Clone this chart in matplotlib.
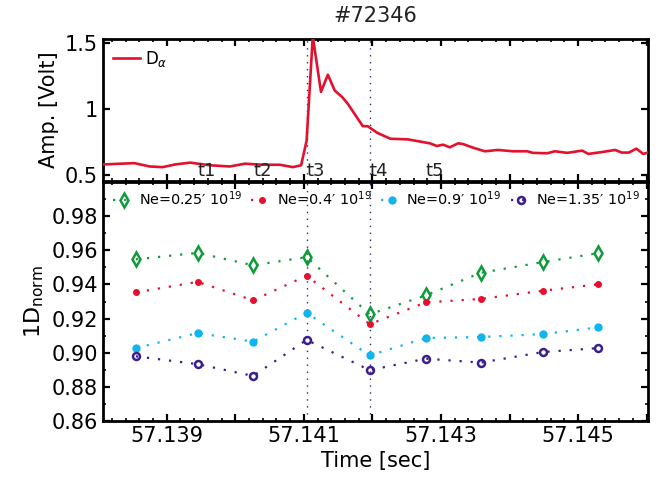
import matplotlib
matplotlib.use('Agg')
import matplotlib.pyplot as plt
from matplotlib.ticker import FixedLocator, MultipleLocator, FuncFormatter

plt.rcParams['font.family'] = 'DejaVu Sans'
plt.rcParams['font.size'] = 15

# ---- data ----
shot = '#72346'

# D-alpha trace (top panel)
da_time = [57.13807, 57.13828, 57.13853, 57.13875, 57.13894, 57.13912, 57.13934,
           57.13963, 57.13992, 57.14014, 57.14039, 57.14065, 57.14084, 57.14096,
           57.14104, 57.14113, 57.14125, 57.14135, 57.14145, 57.14156, 57.14164,
           57.14186, 57.14193, 57.14207, 57.14226, 57.14252, 57.14284, 57.14294,
           57.14303, 57.14313, 57.14325, 57.14332, 57.14347, 57.14364, 57.14383,
           57.14405, 57.14426, 57.14434, 57.14455, 57.14466, 57.14484, 57.14506,
           57.14515, 57.14536, 57.14554, 57.14564, 57.14574, 57.14585, 57.14595,
           57.14602]
da_amp = [0.58, 0.585, 0.59, 0.565, 0.56, 0.58, 0.594,
          0.574, 0.565, 0.586, 0.578, 0.578, 0.56, 0.574,
          0.76, 1.55, 1.13, 1.26, 1.14, 1.09, 1.04,
          0.87, 0.87, 0.82, 0.775, 0.77, 0.74, 0.72,
          0.73, 0.71, 0.74, 0.735, 0.707, 0.68, 0.69,
          0.68, 0.68, 0.668, 0.665, 0.68, 0.668, 0.685,
          0.66, 0.675, 0.69, 0.67, 0.67, 0.70, 0.66,
          0.67]

# sample times (bottom panel) and the t1..t5 markers
t_points = [57.13855, 57.13945, 57.14026, 57.14104, 57.14196,
            57.14278, 57.14358, 57.14449, 57.14529]
t_labels = ['t1', 't2', 't3', 't4', 't5']
t_label_times = t_points[1:6]
vlines_t = [57.14104, 57.14196]

ne_025 = [0.9547, 0.9585, 0.9512, 0.9560, 0.9225, 0.9336, 0.9468, 0.9531, 0.9583]
ne_04 = [0.9353, 0.9415, 0.9307, 0.9451, 0.9167, 0.9295, 0.9315, 0.9363, 0.9401]
ne_09 = [0.9027, 0.9115, 0.9065, 0.9234, 0.8984, 0.9086, 0.9092, 0.9109, 0.9148]
ne_135 = [0.8979, 0.8933, 0.8864, 0.9075, 0.8898, 0.8965, 0.8942, 0.9004, 0.9027]
ne_labels = ['Ne=0.25\u2032 10$^{19}$', 'Ne=0.4\u2032 10$^{19}$',
             'Ne=0.9\u2032 10$^{19}$', 'Ne=1.35\u2032 10$^{19}$']

RED = '#e3112e'
GREEN = '#0f9b3a'
CYAN = '#10b4ef'
PURPLE = '#3b1f8e'
VLINE = '#2a2a7a'

XLIM = (57.13807, 57.14602)

fig = plt.figure(figsize=(6.56, 4.80), dpi=100)
ax2 = fig.add_axes([103 / 656, 1 - 421 / 480, 545 / 656, 239 / 480])
ax1 = fig.add_axes([103 / 656, 1 - 181 / 480, 545 / 656, 142 / 480])


def style_axes(ax):
    for sp in ax.spines.values():
        sp.set_linewidth(2.0)
    ax.tick_params(which='both', direction='in', top=True, right=True, width=1.6)
    ax.tick_params(which='major', length=5, labelsize=15)
    ax.tick_params(which='minor', length=2.5, width=1.2)


# =================== TOP: D-alpha ===================
ax1.plot(da_time, da_amp, color=RED, lw=1.9, label=r'D$_\alpha$', zorder=3)
for tv in vlines_t:
    ax1.axvline(tv, color=VLINE, lw=1.0, ls=(0, (1, 4)), zorder=1)
for lab, tt in zip(t_labels, t_label_times):
    ax1.text(tt, 0.462, lab, ha='left', va='bottom', fontsize=13, color='#222222')
ax1.set_xlim(*XLIM)
ax1.set_ylim(0.455, 1.53)
ax1.set_yticks([0.5, 1.0, 1.5])
ax1.set_yticklabels(['0.5', '1', '1.5'])
ax1.xaxis.set_major_locator(MultipleLocator(0.001))
ax1.xaxis.set_minor_locator(MultipleLocator(0.0002))
ax1.set_xticklabels([])
ax1.set_ylabel('Amp. [Volt]', fontsize=15, labelpad=4)
style_axes(ax1)
ax1.tick_params(axis='x', labelbottom=False)
ax1.legend(loc='upper left', frameon=False, fontsize=12, handlelength=1.6,
           handletextpad=0.3, borderaxespad=0.2, bbox_to_anchor=(0.0, 1.0))
ax1.set_title(shot, fontsize=15, pad=12, color='#222222')

# =================== BOTTOM: 1D norm ===================
series = [
    (ne_025, GREEN, 'd', 'none', 7, 1.8),
    (ne_04, RED, 'o', RED, 4, 1.0),
    (ne_09, CYAN, 'o', CYAN, 5, 1.0),
    (ne_135, PURPLE, 'o', 'none', 5, 1.8),
]
for (vals, col, mk, mfc, ms, mew), lab in zip(series, ne_labels):
    ax2.plot(t_points, vals, ls=(0, (1, 4)), lw=1.6, color=col, marker=mk,
             markerfacecolor=mfc, markeredgecolor=col, markersize=ms,
             markeredgewidth=mew, label=lab, zorder=3)
for tv in vlines_t:
    ax2.axvline(tv, color=VLINE, lw=1.0, ls=(0, (1, 4)), zorder=1)

ax2.set_xlim(*XLIM)
ax2.set_ylim(0.86, 1.0)
ax2.yaxis.set_major_locator(FixedLocator([0.86, 0.88, 0.90, 0.92, 0.94, 0.96, 0.98]))
ax2.yaxis.set_minor_locator(MultipleLocator(0.01))
ax2.yaxis.set_major_formatter(FuncFormatter(lambda v, _: f'{v:.2f}'))
ax2.xaxis.set_major_locator(MultipleLocator(0.001))
ax2.xaxis.set_minor_locator(MultipleLocator(0.0002))
ax2.xaxis.set_major_formatter(FuncFormatter(
    lambda v, _: f'{v:.3f}' if int(round(v * 1000)) % 2 == 1 else ''))
ax2.set_xlabel('Time [sec]', fontsize=15, labelpad=4)
ax2.set_ylabel('1D$_{\\mathrm{norm}}$', fontsize=16, labelpad=4)
style_axes(ax2)

ax2.legend(loc='upper left', ncol=4, frameon=False, fontsize=10.4,
           handlelength=1.5, handletextpad=0.25, columnspacing=0.65,
           borderaxespad=0.1, bbox_to_anchor=(0.006, 1.0))

fig.savefig('out.png', dpi=100)
